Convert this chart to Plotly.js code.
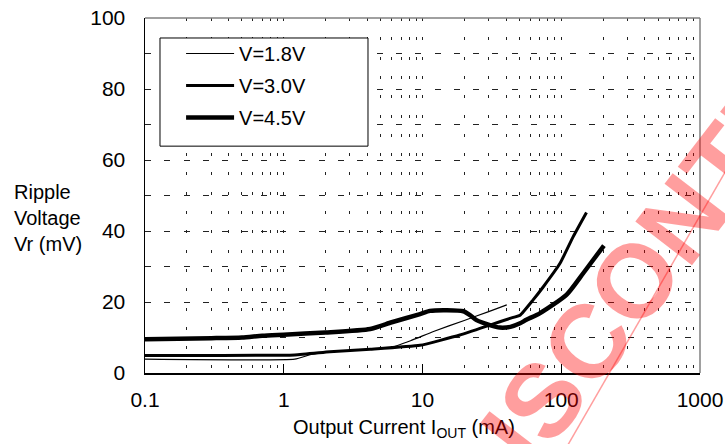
<!DOCTYPE html>
<html>
<head>
<meta charset="utf-8">
<script src="https://cdn.plot.ly/plotly-3.0.1.min.js"></script>
<style>html,body{margin:0;padding:0;background:#fff;}#chart{width:725px;height:444px;}</style>
</head>
<body>
<div id="chart"></div>
<script>
// ---- data ----
const seriesNames = ["V=1.8V", "V=3.0V", "V=4.5V"];

const v18_x = [0.1, 1.2, 1.6, 2.2, 4.2, 5.8, 8.2, 12, 20, 30, 40.5];
const v18_y = [3.9, 3.9, 5.3, 6.0, 6.7, 7.1, 9.1, 11.7, 14.8, 17.3, 19.2];

const v30_x = [0.1, 1.2, 2.15, 4.2, 9.6, 18.6, 30.6, 42.7, 50.5, 62.7, 74.3, 98, 122, 152];
const v30_y = [4.9, 5.1, 6.0, 6.7, 7.8, 10.7, 13.5, 15.4, 16.3, 20.6, 24.3, 30.9, 38.4, 45.2];

const v45_x = [0.1, 0.3, 0.5, 0.7, 1, 2, 4.2, 6, 9.6, 11.3, 15, 19.7, 22, 24.5, 30.6, 36, 43, 50.5, 56, 70, 109, 144, 203];
const v45_y = [9.5, 9.8, 10.0, 10.5, 10.8, 11.4, 12.4, 14.3, 16.6, 17.5, 17.7, 17.4, 16.3, 14.9, 13.5, 12.8, 13.0, 14.0, 15.0, 16.8, 22.0, 28.1, 35.9];

const xMajorTicks = [0.1, 1, 10, 100, 1000];
const xMajorLabels = ["0.1", "1", "10", "100", "1000"];
const xMinorTicks = [0.2,0.3,0.4,0.5,0.6,0.7,0.8,0.9,2,3,4,5,6,7,8,9,20,30,40,50,60,70,80,90,200,300,400,500,600,700,800,900];
const yTicks = [0,10,20,30,40,50,60,70,80,90,100];
const yLabels = ["0","","20","","40","","60","","80","","100"];

// ---- chart ----
const FONT = "Liberation Sans, Arial, sans-serif";
const GRID = "#222";

const traces = [
  {x: v18_x, y: v18_y, name: seriesNames[0], legendgroup: "a", mode: "lines", line: {color: "#000", width: 1.2, shape: "spline", smoothing: 0.4}},
  {x: v30_x, y: v30_y, name: seriesNames[1], legendgroup: "b", mode: "lines", line: {color: "#000", width: 3, shape: "spline", smoothing: 0.4}},
  {x: v45_x, y: v45_y, name: seriesNames[2], legendgroup: "c", mode: "lines", line: {color: "#000", width: 4.5, shape: "spline", smoothing: 0.6}}
];

const layout = {
  width: 725, height: 444,
  margin: {l: 145, r: 25, t: 18, b: 71},
  paper_bgcolor: "#fff", plot_bgcolor: "#fff",
  font: {family: FONT, size: 20, color: "#000"},
  showlegend: true,
  legend: {
    x: 0.065, y: 0.955, xanchor: "left", yanchor: "top",
    bgcolor: "rgba(0,0,0,0)", borderwidth: 0,
    font: {family: FONT, size: 20, color: "#000"},
    tracegroupgap: 3, itemwidth: 48
  },
  xaxis: {
    type: "log", range: [-1, 3],
    tickmode: "array", tickvals: xMajorTicks, ticktext: xMajorLabels,
    ticks: "inside", ticklen: 9, tickwidth: 1.2, tickcolor: "#000",
    tickfont: {family: FONT, size: 21, color: "#000"},
    ticklabelstandoff: 7,
    showgrid: true, gridcolor: GRID, gridwidth: 1, griddash: "3px,16.3px",
    minor: {tickmode: "array", tickvals: xMinorTicks, showgrid: true, gridcolor: GRID, gridwidth: 1, griddash: "3px,16.3px", ticks: ""},
    showline: true, linecolor: "#000", linewidth: 1.5,
    zeroline: false, fixedrange: true
  },
  yaxis: {
    range: [0, 100],
    tickmode: "array", tickvals: yTicks, ticktext: yLabels,
    ticks: "", tickfont: {family: FONT, size: 21, color: "#000"},
    ticklabelstandoff: 14,
    showgrid: true, gridcolor: GRID, gridwidth: 1, griddash: "6px,13.3px",
    showline: true, linecolor: "#000", linewidth: 1.5,
    zeroline: false, fixedrange: true
  },
  shapes: [
    // top and right frame (gray)
    {type: "line", xref: "paper", yref: "paper", x0: 0, x1: 1, y0: 1, y1: 1, line: {color: "#808080", width: 1.5}},
    {type: "line", xref: "paper", yref: "paper", x0: 1, x1: 1, y0: 0, y1: 1, line: {color: "#808080", width: 1.5}},
    // legend box
    {type: "rect", xref: "paper", yref: "paper", x0: 0.027, x1: 0.4018, y0: 0.639, y1: 0.9437,
     fillcolor: "#fff", line: {color: "#000", width: 1}, layer: "above"},
    // watermark stroke
    {type: "line", xref: "paper", yref: "paper", x0: (565-145)/555, y0: (373-450)/355, x1: (735-145)/555, y1: (373-155)/355,
     line: {color: "rgba(255,0,0,0.38)", width: 1.5}, layer: "above"}
  ],
  annotations: [
    {text: "Ripple<br>Voltage<br>Vr (mV)", xref: "paper", yref: "paper", x: (12-145)/555, y: (373-218)/355,
     xanchor: "left", yanchor: "middle", align: "left", showarrow: false,
     font: {family: FONT, size: 20, color: "#000"}},
    {text: "Output Current I<sub>OUT</sub> (mA)", xref: "paper", yref: "paper", x: (404-145)/555, y: (373-428)/355,
     xanchor: "center", yanchor: "middle", showarrow: false,
     font: {family: FONT, size: 20, color: "#000"}},
    {text: "<b>DISCONTINUED</b>", xref: "paper", yref: "paper", x: (700-145)/555, y: (373-196)/355,
     xanchor: "center", yanchor: "middle", showarrow: false, textangle: -52.4,
     font: {family: FONT, size: 104, color: "rgba(255,0,0,0.38)"}}
  ]
};

Plotly.newPlot("chart", traces, layout, {staticPlot: true, displayModeBar: false});
</script>
</body>
</html>
